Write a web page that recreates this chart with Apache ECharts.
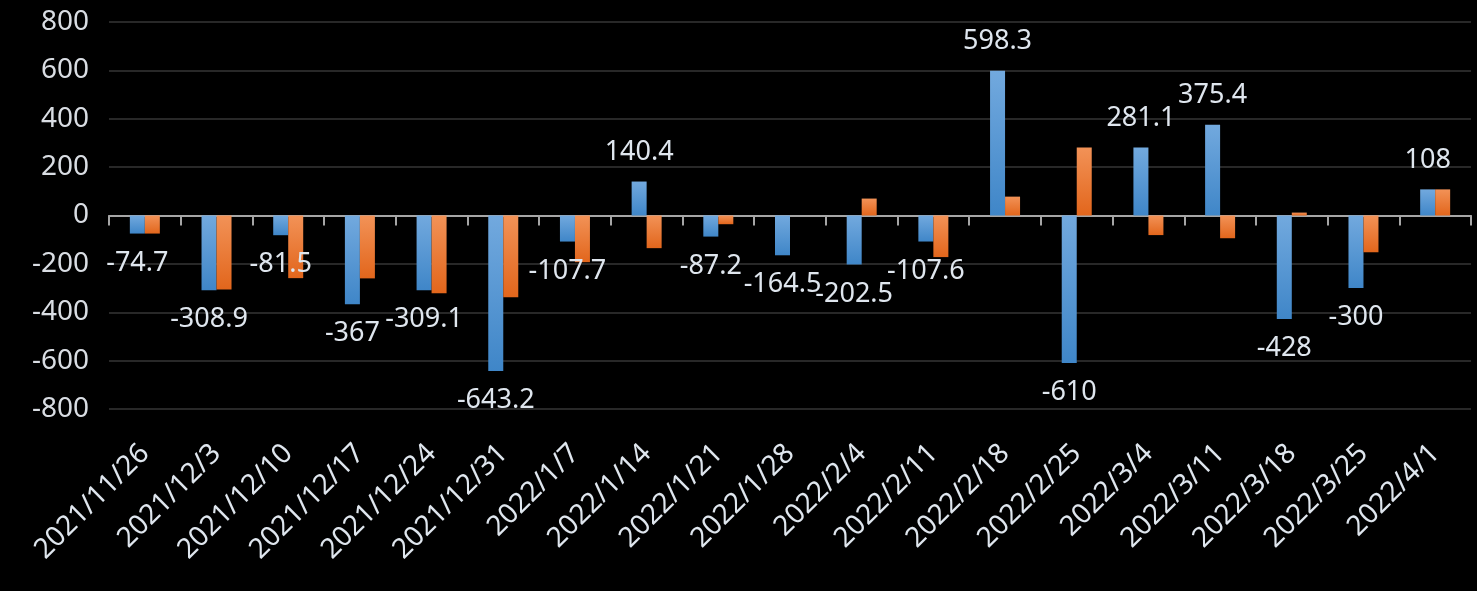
<!DOCTYPE html>
<html><head><meta charset="utf-8">
<script src="https://cdn.jsdelivr.net/npm/echarts@6/dist/echarts.min.js"></script>
<style>html,body{margin:0;padding:0;background:#000;}#c{width:1477px;height:591px;}</style>
</head><body><div id="c"></div>
<script>
const categories = ['2021/11/26','2021/12/3','2021/12/10','2021/12/17','2021/12/24','2021/12/31','2022/1/7','2022/1/14','2022/1/21','2022/1/28','2022/2/4','2022/2/11','2022/2/18','2022/2/25','2022/3/4','2022/3/11','2022/3/18','2022/3/25','2022/4/1'];
const blueValues = [-74.7,-308.9,-81.5,-367,-309.1,-643.2,-107.7,140.4,-87.2,-164.5,-202.5,-107.6,598.3,-610,281.1,375.4,-428,-300,108];
const orangeValues = [-74.7,-306,-259,-260,-321,-338,-193,-135,-36,0,70,-172,78,281,-81,-94,12,-152,108];
const yTicks = {min:-800,max:800,interval:200};

const chart = echarts.init(document.getElementById('c'));
const txt = '#dfe6ee';
const blueGrad = new echarts.graphic.LinearGradient(0,0,0,1,[{offset:0,color:'#72a9de'},{offset:1,color:'#3f86c8'}]);
const orangeGrad = new echarts.graphic.LinearGradient(0,0,0,1,[{offset:0,color:'#f29257'},{offset:1,color:'#e2661c'}]);
chart.setOption({
  backgroundColor:'#000',
  animation:false,
  grid:{left:109,right:6,top:22,bottom:182},
  xAxis:{type:'category',data:categories,
    axisLine:{onZero:true,lineStyle:{color:'#a6a6a6',width:2}},
    axisTick:{show:true,length:10,lineStyle:{color:'#a6a6a6',width:2}},
    axisLabel:{rotate:45,interval:0,color:txt,fontSize:28,fontFamily:'Noto Sans',margin:40}
  },
  yAxis:{type:'value',min:yTicks.min,max:yTicks.max,interval:yTicks.interval,
    axisLine:{show:false},axisTick:{show:false},
    splitLine:{lineStyle:{color:'#282828',width:2}},
    axisLabel:{color:'#d9dde3',fontSize:28,fontFamily:'Noto Sans',margin:20}
  },
  series:[
    {type:'bar',barWidth:15,barGap:'0%',
      data:blueValues.map(v=>({value:v,label:{position:v<0?'bottom':'top'}})),
      itemStyle:{color:blueGrad},
      label:{show:true,color:txt,fontSize:27,fontFamily:'Noto Sans',distance:16}
    },
    {type:'bar',barWidth:15,barGap:'0%',data:orangeValues,itemStyle:{color:orangeGrad}}
  ]
});
</script></body></html>
